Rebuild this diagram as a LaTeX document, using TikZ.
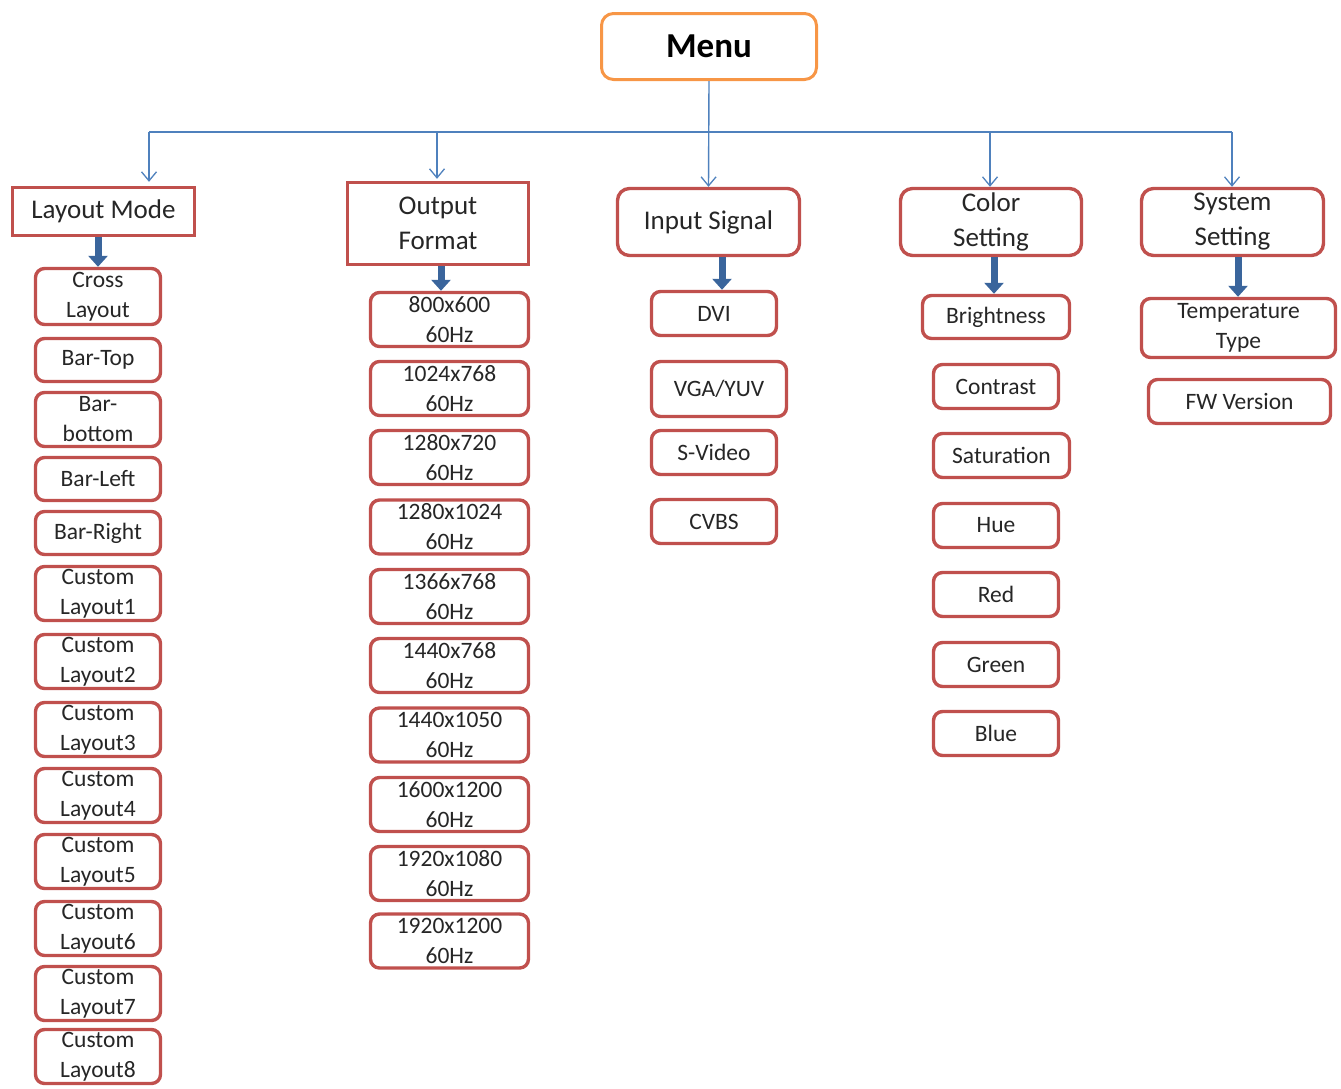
\documentclass[tikz,border=0pt]{standalone}
\usepackage{fontspec}
\setmainfont{Carlito}
\usetikzlibrary{arrows.meta}
\definecolor{boxred}{HTML}{C0504D}
\definecolor{menuorange}{HTML}{F79646}
\definecolor{linkblue}{HTML}{4F81BD}
\definecolor{fatblue}{HTML}{3A659C}
\definecolor{txt}{HTML}{262626}
\tikzset{
  base/.style={draw=boxred, line width=3.4pt, fill=white, inner sep=0pt, align=center, text=txt},
  child/.style={base, rounded corners=9pt, font=\fontsize{23.5}{30}\selectfont},
  hdr/.style={base, font=\fontsize{27}{35}\selectfont},
  hdrr/.style={hdr, rounded corners=12pt},
  link/.style={draw=linkblue, line width=1.4pt, -{Straight Barb[length=9pt,width=15pt,line width=1.3pt]}},
  hline/.style={draw=linkblue, line width=1.4pt},
  fat/.style={draw=fatblue, line width=7pt, -{Triangle[length=11pt,width=19pt]}}
}
\begin{document}
\begin{tikzpicture}[x=1pt,y=-1pt]
\useasboundingbox (0,0) rectangle (1341,1088);
% Menu
\node[draw=menuorange, line width=3pt, rounded corners=12pt, fill=white, minimum width=215, minimum height=66, inner sep=0pt, font=\fontsize{35}{40}\selectfont\bfseries] (menu) at (709,46.5) {Menu};
% headers
\node[hdr, minimum width=182, minimum height=48] (layout) at (103.5,211.5) {Layout Mode};
\node[hdr, minimum width=181, minimum height=82] (output) at (438,223.5) {Output\\Format};
\node[hdrr, minimum width=182, minimum height=67] (input) at (708.5,222) {Input Signal};
\node[hdrr, minimum width=181, minimum height=67] (color) at (991,222) {Color\\Setting};
\node[hdrr, minimum width=182, minimum height=67] (system) at (1232.5,222) {System\\Setting};
% connectors
\coordinate (hl) at (149,132);
\coordinate (hr) at (1232,132);
\coordinate (ho) at (437,132);
\coordinate (hc) at (990,132);
\draw[hline] (hl) -- (hr);
\draw[link, shorten >=4pt] (hl) -- (hl |- layout.north);
\draw[link, shorten >=2pt] (ho) -- (ho |- output.north);
\draw[link] (menu.south) -- (input.north);
\draw[link] (hc) -- (hc |- color.north);
\draw[link] (hr) -- (hr |- system.north);
% layout children
\foreach \nm/\cy/\h/\t in {
  l1/296.5/56/{Cross\\Layout}, l2/360/43/{Bar-Top}, l3/419.5/54/{Bar-\\bottom},
  l4/479/43/{Bar-Left}, l5/533/43/{Bar-Right}, l6/593.5/54/{Custom\\Layout1},
  l7/661.5/54/{Custom\\Layout2}, l8/729.5/54/{Custom\\Layout3}, l9/795.5/54/{Custom\\Layout4},
  l10/861.5/54/{Custom\\Layout5}, l11/928.5/54/{Custom\\Layout6}, l12/993.5/54/{Custom\\Layout7},
  l13/1056.5/54/{Custom\\Layout8}}
  \node[child, minimum width=125, minimum height=\h] (\nm) at (98,\cy) {\t};
% output children
\foreach \nm/\cy/\t in {
  o1/319.5/800x600, o2/388.5/1024x768, o3/457.5/1280x720, o4/527/1280x1024,
  o5/596.5/1366x768, o6/665.5/1440x768, o7/735/1440x1050, o8/804.5/1600x1200,
  o9/873.5/1920x1080, o10/941/1920x1200}
  \node[child, minimum width=158, minimum height=54] (\nm) at (449.5,\cy) {\t\\60Hz};
% input children
\node[child, minimum width=125, minimum height=44] (i1) at (714,313.5) {DVI};
\node[child, minimum width=135, minimum height=55] (i2) at (719,389) {VGA/YUV};
\node[child, minimum width=125, minimum height=44] (i3) at (714,452.5) {S-Video};
\node[child, minimum width=125, minimum height=44] (i4) at (714,521.5) {CVBS};
% color children
\node[child, minimum width=147, minimum height=43] (c1) at (996,317) {Brightness};
\node[child, minimum width=125, minimum height=44] (c2) at (996,386.5) {Contrast};
\node[child, minimum width=136, minimum height=44] (c3) at (1001.5,455.5) {Saturation};
\node[child, minimum width=125, minimum height=44] (c4) at (996,525.5) {Hue};
\node[child, minimum width=125, minimum height=44] (c5) at (996,594.5) {Red};
\node[child, minimum width=125, minimum height=44] (c6) at (996,664.5) {Green};
\node[child, minimum width=125, minimum height=44] (c7) at (996,733.5) {Blue};
% system children
\node[child, minimum width=194, minimum height=59] (s1) at (1238.5,328) {Temperature\\Type};
\node[child, minimum width=182, minimum height=44] (s2) at (1239.5,401.5) {FW Version};
% fat arrows
\draw[fat] ([xshift=-5.5pt]layout.south) -- ([xshift=-5.5pt]layout.south |- l1.north);
\draw[fat] ([xshift=3pt]output.south) -- ([xshift=3pt]output.south |- o1.north);
\draw[fat] ([xshift=13.5pt]input.south) -- ([xshift=13.5pt]input.south |- i1.north);
\draw[fat] ([xshift=3pt]color.south) -- ([xshift=3pt]color.south |- c1.north);
\draw[fat] ([xshift=5.5pt]system.south) -- ([xshift=5.5pt]system.south |- s1.north);
\end{tikzpicture}
\end{document}
